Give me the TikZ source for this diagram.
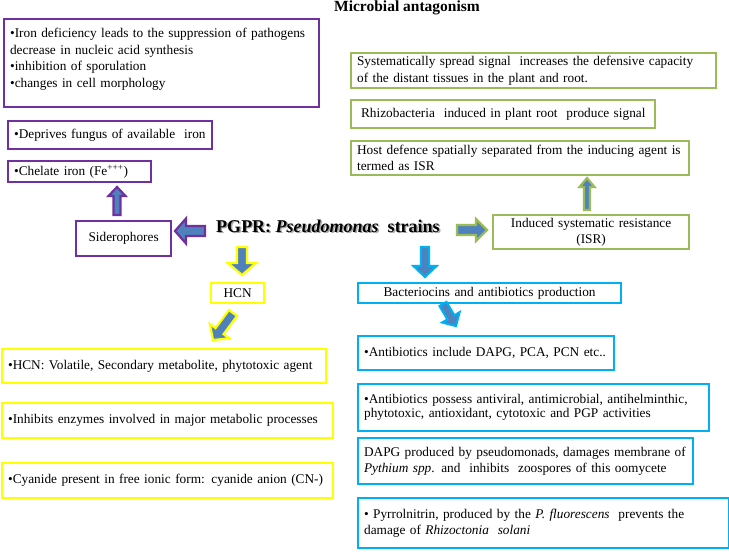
\documentclass[tikz,border=0pt]{standalone}
\usepackage{fontspec}
\setmainfont{Liberation Serif}
\usetikzlibrary{calc}
\definecolor{cpurple}{HTML}{7030A0}
\definecolor{cgreen}{HTML}{9BBB59}
\definecolor{cyellow}{HTML}{FFFF00}
\definecolor{ccyan}{HTML}{00B0F0}
\definecolor{afill}{HTML}{4F81BD}
\newcommand\bx[7]{%
  \pgfmathsetmacro\bw{#5-#3-12}\pgfmathsetmacro\bh{#6-#4}%
  \node[box,#1,text width=\bw pt,minimum height=\bh pt] (#2) at (#3,#4) {#7};}
\newcommand\barrow[6]{%
  \coordinate (hb) at ($(#3)!#6!(#2)$);
  \draw[arr,draw=#1] ($(#2)!#4!90:(#3)$) -- ($(hb)!#4!90:(#3)$) -- ($(hb)!#5!90:(#3)$) -- (#3)
    -- ($(hb)!#5!-90:(#3)$) -- ($(hb)!#4!-90:(#3)$) -- ($(#2)!#4!-90:(#3)$) -- cycle;}
\begin{document}
\begin{tikzpicture}[x=1pt,y=-1pt,
  box/.style={draw,line width=2.2pt,fill=white,inner xsep=6pt,inner ysep=0pt,anchor=north west,
    font=\fontsize{13.3}{16.5}\selectfont,align=left},
  pbox/.style={draw=cpurple},
  gbox/.style={draw=cgreen},
  ybox/.style={draw=cyellow},
  cbox/.style={draw=ccyan},
  ctr/.style={align=center},
  arr/.style={fill=afill,line width=2.2pt,line join=miter}]
\useasboundingbox (0,0) rectangle (729,552);
\node[font=\bfseries\fontsize{15.5}{18}\selectfont] (title) at (407,8) {Microbial antagonism};
% purple
\bx{pbox}{p1}{3}{18}{318}{106}{•Iron deficiency leads to the suppression of pathogens\\decrease in nucleic acid synthesis\\•inhibition of sporulation\\•changes in cell morphology\\[-6pt]\mbox{}}
\bx{pbox}{p2}{7}{120}{211}{148}{\mbox{•Deprives fungus of available\ \ iron}}
\bx{pbox}{p3}{7}{160}{150}{181}{\mbox{•Chelate iron (Fe\textsuperscript{+++})}}
\bx{pbox,ctr}{sid}{75}{220}{170}{255}{Siderophores}
% green
\bx{gbox}{g1}{350}{52}{715}{87}{Systematically spread signal\ \ increases the defensive capacity\\of the distant tissues in the plant and root.}
\bx{gbox}{g2}{350}{99}{654}{127}{\mbox{\hspace{4pt}Rhizobacteria\ \ induced in plant root\ \ produce signal}}
\bx{gbox}{g3}{350}{140}{688}{174}{Host defence spatially separated from the inducing agent is\\termed as ISR}
\bx{gbox,ctr}{isr}{492}{214}{688}{248}{Induced systematic resistance\\(ISR)}
% yellow
\bx{ybox,ctr}{hcn}{210}{282}{263}{302}{HCN}
\bx{ybox}{y1}{1}{348}{325}{382}{\mbox{•HCN: Volatile, Secondary metabolite, phytotoxic agent}}
\bx{ybox}{y2}{1}{402}{332}{437}{\mbox{•Inhibits enzymes involved in major metabolic processes}}
\bx{ybox}{y3}{1}{462}{332}{497}{\mbox{•Cyanide present in free ionic form: cyanide anion (CN-)}}
% cyan
\bx{cbox,ctr}{bac}{357}{282}{620}{302}{Bacteriocins and antibiotics production}
\bx{cbox}{b1}{357}{335}{613}{369}{•Antibiotics include DAPG, PCA, PCN etc..}
\bx{cbox,font=\fontsize{13.3}{13.8}\selectfont}{b2}{357}{383}{708}{430}{•Antibiotics possess antiviral, antimicrobial, antihelminthic,\\phytotoxic, antioxidant, cytotoxic and PGP activities}
\bx{cbox}{b3}{357}{437}{692}{483}{DAPG produced by pseudomonads, damages membrane of\\\textit{Pythium spp}. and\ \ inhibits\ \ zoospores of this oomycete}
\bx{cbox}{b4}{357}{497}{728}{547}{• Pyrrolnitrin, produced by the \textit{P. fluorescens}\ \ prevents the\\damage of \textit{Rhizoctonia\ \ solani}}
% centre
\node[font=\bfseries\fontsize{18}{20}\selectfont,text=black!35] (pgprs) at (329.3,227.3) {PGPR: \textit{Pseudomonas}\ \ strains};
\node[font=\bfseries\fontsize{18}{20}\selectfont] (pgpr) at (328,226) {PGPR: \textit{Pseudomonas}\ \ strains};
% arrows
\coordinate (a1s) at (205,231); \coordinate (a1e) at (175,231);
\coordinate (a2s) at (117,215); \coordinate (a2e) at (117,187);
\coordinate (a3s) at (457,230); \coordinate (a3e) at (487,230);
\coordinate (a4s) at (587,210); \coordinate (a4e) at (587,178);
\coordinate (a5s) at (242,247); \coordinate (a5e) at (242,275);
\coordinate (a6s) at (233,313); \coordinate (a6e) at (213,340);
\coordinate (a7s) at (425,247); \coordinate (a7e) at (425,277);
\coordinate (a8s) at (443,304); \coordinate (a8e) at (456,326);
\barrow{cpurple}{a1s}{a1e}{5pt}{12.5pt}{11pt}
\barrow{cpurple}{a2s}{a2e}{3.5pt}{8.5pt}{9pt}
\barrow{cgreen}{a3s}{a3e}{5pt}{11pt}{11pt}
\barrow{cgreen}{a4s}{a4e}{3pt}{7.5pt}{9pt}
\barrow{cyellow}{a5s}{a5e}{5pt}{14pt}{12pt}
\barrow{cyellow}{a6s}{a6e}{5pt}{12pt}{11pt}
\barrow{ccyan}{a7s}{a7e}{4pt}{11.5pt}{11pt}
\barrow{ccyan}{a8s}{a8e}{4pt}{10pt}{10pt}
\end{tikzpicture}
\end{document}
